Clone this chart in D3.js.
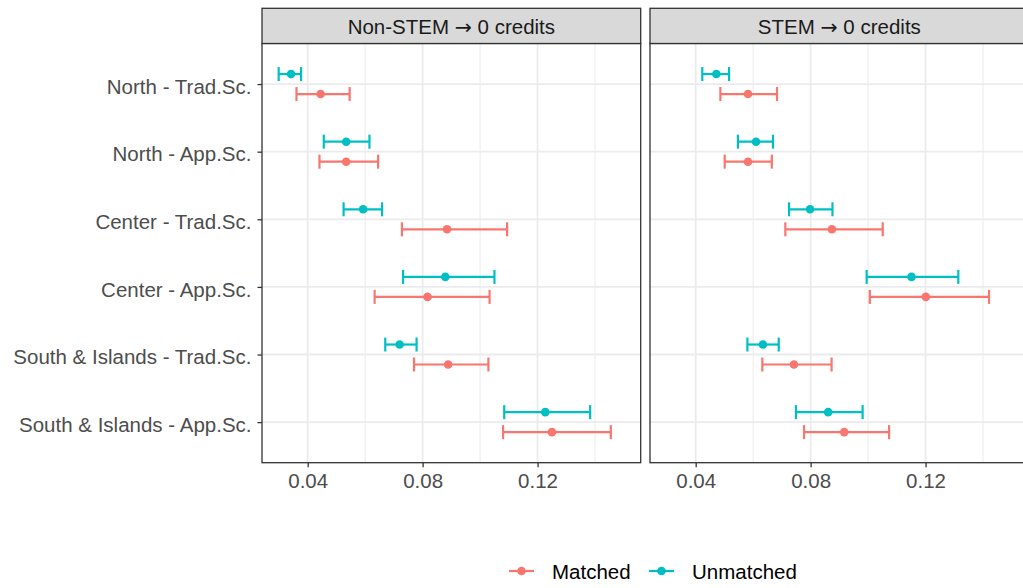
<!DOCTYPE html>
<html>
<head>
<meta charset="utf-8">
<script src="https://cdn.jsdelivr.net/npm/d3@7"></script>
<style>
  body { margin: 0; background: #fff; }
  text { font-family: "Liberation Sans", Arial, sans-serif; }
</style>
</head>
<body>
<svg id="chart" width="1023" height="588"></svg>
<script>
// categories, top to bottom
var categories = ["North - Trad.Sc.", "North - App.Sc.", "Center - Trad.Sc.",
  "Center - App.Sc.", "South & Islands - Trad.Sc.", "South & Islands - App.Sc."];
var facets = [["Non-STEM", "0 credits"], ["STEM", "0 credits"]];
var groups = ["Unmatched", "Matched"];
var legendOrder = ["Matched", "Unmatched"];
var xTicks = [0.04, 0.08, 0.12];
var xMinor = [0.06, 0.10, 0.14];
var xDomain = [0.0241, 0.1559];

// estimates per category: [low, point, high]
var nonStemMatched = [
  [0.0361, 0.0445, 0.0546],
  [0.0441, 0.0534, 0.0645],
  [0.0728, 0.0885, 0.1094],
  [0.0633, 0.0817, 0.1033],
  [0.0770, 0.0889, 0.1029],
  [0.1080, 0.1250, 0.1455]
];
var nonStemUnmatched = [
  [0.0299, 0.0342, 0.0377],
  [0.0456, 0.0534, 0.0615],
  [0.0525, 0.0593, 0.0659],
  [0.0732, 0.0879, 0.1050],
  [0.0670, 0.0720, 0.0779],
  [0.1084, 0.1227, 0.1383]
];
var stemMatched = [
  [0.0486, 0.0582, 0.0683],
  [0.0501, 0.0582, 0.0665],
  [0.0712, 0.0874, 0.1051],
  [0.1006, 0.1201, 0.1421],
  [0.0632, 0.0742, 0.0873],
  [0.0777, 0.0917, 0.1073]
];
var stemUnmatched = [
  [0.0423, 0.0472, 0.0516],
  [0.0547, 0.0610, 0.0669],
  [0.0725, 0.0798, 0.0876],
  [0.0995, 0.1151, 0.1314],
  [0.0580, 0.0634, 0.0689],
  [0.0749, 0.0861, 0.0981]
];

var colors = { "Matched": "#F8766D", "Unmatched": "#00BFC4" };
var fontSize = "20.5px";

// flatten into rows
function rows(facet, group, arr) {
  return arr.map(function(d, i) {
    return { facet: facet, group: group, cat: categories[i], lo: d[0], est: d[1], hi: d[2] };
  });
}
var data = [].concat(
  rows(0, "Matched", nonStemMatched),
  rows(0, "Unmatched", nonStemUnmatched),
  rows(1, "Matched", stemMatched),
  rows(1, "Unmatched", stemUnmatched)
);

var svg = d3.select("#chart");

var panelW = 378.7;
var panelLeft = [262, 650];
var stripTop = 8.3, stripBottom = 43.5, panelBottom = 462.7;

var x = d3.scaleLinear().domain(xDomain).range([0, panelW]);
var y = d3.scalePoint().domain(categories).range([stripBottom, panelBottom]).padding(0.6);
var dodge = d3.scalePoint().domain(groups).range([-10, 10]);

facets.forEach(function(f, fi) {
  var g = svg.append("g").attr("transform", "translate(" + panelLeft[fi] + ",0)");

  // grid
  g.selectAll(".minor").data(xMinor).enter().append("line")
    .attr("x1", x).attr("x2", x)
    .attr("y1", stripBottom).attr("y2", panelBottom)
    .attr("stroke", "#EBEBEB").attr("stroke-width", 1);
  g.selectAll(".major").data(xTicks).enter().append("line")
    .attr("x1", x).attr("x2", x)
    .attr("y1", stripBottom).attr("y2", panelBottom)
    .attr("stroke", "#EBEBEB").attr("stroke-width", 1.8);
  g.selectAll(".hgrid").data(categories).enter().append("line")
    .attr("x1", 0).attr("x2", panelW)
    .attr("y1", y).attr("y2", y)
    .attr("stroke", "#EBEBEB").attr("stroke-width", 1.8);

  var fd = data.filter(function(d) { return d.facet === fi; });
  var bars = g.selectAll(".bar").data(fd).enter().append("g")
    .attr("transform", function(d) { return "translate(0," + (y(d.cat) + dodge(d.group)) + ")"; });
  bars.append("line")
    .attr("x1", function(d) { return x(d.lo); })
    .attr("x2", function(d) { return x(d.hi); })
    .attr("stroke", function(d) { return colors[d.group]; })
    .attr("stroke-width", 2.2);
  bars.append("line")
    .attr("x1", function(d) { return x(d.lo); })
    .attr("x2", function(d) { return x(d.lo); })
    .attr("y1", -7).attr("y2", 7)
    .attr("stroke", function(d) { return colors[d.group]; })
    .attr("stroke-width", 2.2);
  bars.append("line")
    .attr("x1", function(d) { return x(d.hi); })
    .attr("x2", function(d) { return x(d.hi); })
    .attr("y1", -7).attr("y2", 7)
    .attr("stroke", function(d) { return colors[d.group]; })
    .attr("stroke-width", 2.2);
  bars.append("circle")
    .attr("cx", function(d) { return x(d.est); })
    .attr("r", 4.3)
    .attr("fill", function(d) { return colors[d.group]; });

  // panel border
  g.append("rect")
    .attr("x", 0).attr("y", stripBottom)
    .attr("width", panelW).attr("height", panelBottom - stripBottom)
    .attr("fill", "none").attr("stroke", "#333333").attr("stroke-width", 1.3);

  // strip
  g.append("rect")
    .attr("x", 0).attr("y", stripTop)
    .attr("width", panelW).attr("height", stripBottom - stripTop)
    .attr("fill", "#D9D9D9").attr("stroke", "#333333").attr("stroke-width", 1.3);
  var st = g.append("text")
    .attr("x", panelW / 2).attr("y", (stripTop + stripBottom) / 2)
    .attr("dy", "0.38em")
    .attr("text-anchor", "middle")
    .attr("font-size", fontSize)
    .attr("fill", "#1A1A1A");
  st.append("tspan").text(f[0] + " ");
  // the arrow glyph in Liberation Sans is tiny, DejaVu draws a longer one
  st.append("tspan").style("font-family", "DejaVu Sans").text("\u2192");
  st.append("tspan").text(" " + f[1]);

  // x axis
  var xa = g.append("g").attr("transform", "translate(0," + panelBottom + ")")
    .call(d3.axisBottom(x).tickValues(xTicks).tickFormat(d3.format(".2f")).tickSize(4.5).tickPadding(6));
  xa.select(".domain").remove();
  xa.selectAll("line").attr("stroke", "#333333").attr("stroke-width", 1.3);
  xa.selectAll("text").attr("font-size", fontSize).attr("fill", "#4D4D4D")
    .style("font-family", "Liberation Sans, Arial, sans-serif");
});

// y axis
var ya = svg.append("g").attr("transform", "translate(" + panelLeft[0] + ",0)")
  .call(d3.axisLeft(y).tickSize(4.5).tickPadding(6));
ya.select(".domain").remove();
ya.selectAll("line").attr("stroke", "#333333").attr("stroke-width", 1.3);
ya.selectAll("text").attr("font-size", fontSize).attr("fill", "#4D4D4D")
  .attr("dy", "0.45em")
  .style("font-family", "Liberation Sans, Arial, sans-serif");

// legend
var legendX = [509, 649];
var legend = svg.append("g").attr("transform", "translate(0,571)");
legendOrder.forEach(function(gname, i) {
  var lg = legend.append("g").attr("transform", "translate(" + legendX[i] + ",0)");
  lg.append("line").attr("x1", 0).attr("x2", 25)
    .attr("stroke", colors[gname]).attr("stroke-width", 2.2);
  lg.append("circle").attr("cx", 12.5).attr("r", 4.3).attr("fill", colors[gname]);
  lg.append("text").attr("x", 43).attr("dy", "0.38em")
    .attr("font-size", fontSize).attr("fill", "#000")
    .text(gname);
});
</script>
</body>
</html>
